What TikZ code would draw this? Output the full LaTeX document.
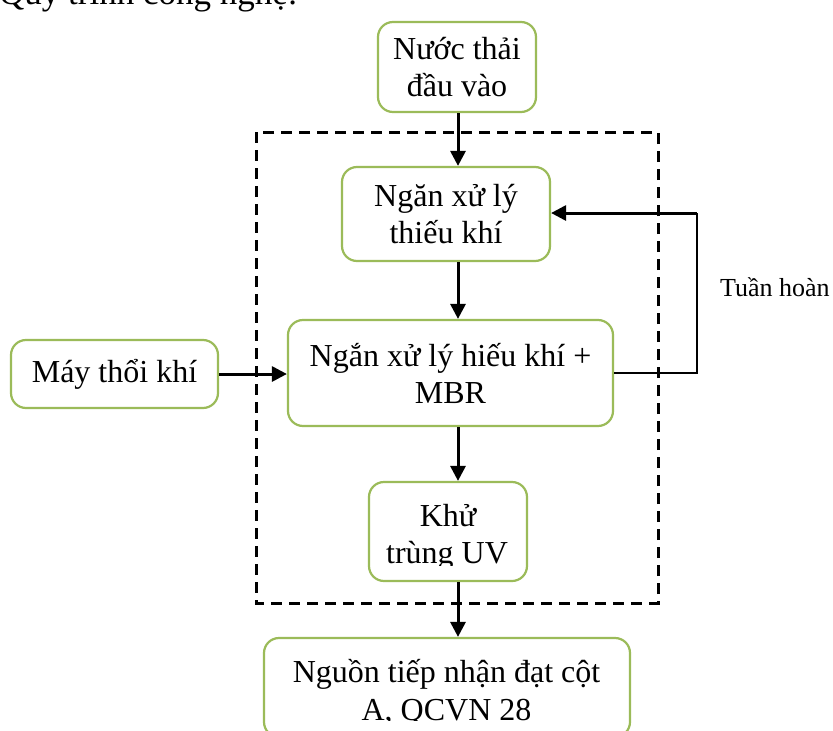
\documentclass[tikz,border=0pt]{standalone}
\usepackage{fontspec}
\setmainfont{Liberation Serif}
\usetikzlibrary{arrows.meta}
\definecolor{boxgreen}{HTML}{9BBB59}
\begin{document}
\begin{tikzpicture}[x=1pt,y=-1pt,
  box/.style={draw=boxgreen, line width=2.2pt, rounded corners=15pt, align=center, inner sep=0pt, font=\fontsize{32}{37}\selectfont},
  flow/.style={line width=3pt, -{Triangle[length=15pt,width=15pt]}},
  thinline/.style={line width=1.3pt},
  dashbox/.style={line width=3pt, dash pattern=on 11pt off 7pt},
  lbl/.style={inner sep=0pt, anchor=base, font=\fontsize{32}{37}\selectfont}]
\useasboundingbox (0,0) rectangle (833,731);
\clip (0,0) rectangle (833,731);

\node[anchor=base west, inner sep=0pt, font=\fontsize{35}{40}\selectfont] (title) at (-1,4) {Quy trình công nghệ:};

\draw[dashbox] (256,132) rectangle (658,603);

\node[box, minimum width=158pt, minimum height=90pt] (in) at (457,67) {Nước thải\\đầu vào};
\node[box, minimum width=208pt, minimum height=94pt] (anox) at (446,214) {Ngăn xử lý\\thiếu khí};
\node[box, minimum width=325pt, minimum height=106pt] (aero) at (450.5,373) {Ngắn xử lý hiếu khí +\\MBR};
\node[box, minimum width=207pt, minimum height=68pt] (blow) at (114.5,374) {Máy thổi khí};
\node[box, minimum width=158pt, minimum height=99pt] (uv) at (448,531.5) {};
\node[box, minimum width=366pt, minimum height=99pt] (recv) at (447,687.5) {};

\begin{scope}
  \clip (360,484) rectangle (536,565);
  \node[lbl] (uv1) at (448,526) {Khử};
  \node[lbl] (uv2) at (447,563) {trùng UV};
\end{scope}
\begin{scope}
  \clip (266,640) rectangle (628,720);
  \node[lbl] (recv1) at (446.5,682) {Nguồn tiếp nhận đạt cột};
  \node[lbl] (recv2) at (446.5,720) {A, QCVN 28};
\end{scope}

\node[anchor=west, inner sep=0pt, font=\fontsize{26}{30}\selectfont] (tl) at (720,287) {Tuần hoàn};

\coordinate (spine) at (458,0);
\coordinate (rc) at (697,213);
\draw[flow] (spine |- in.south) -- (spine |- anox.north);
\draw[flow] (spine |- anox.south) -- (spine |- aero.north);
\draw[flow] (spine |- aero.south) -- (spine |- uv.north);
\draw[flow] (spine |- uv.south) -- (spine |- recv.north);
\draw[flow] (blow.east) -- (blow.east -| aero.west);
\draw[thinline] (aero.east) -| (rc);
\draw[line width=3pt, -{Triangle[length=15pt,width=15pt]}] (rc) -- (rc -| anox.east);
\end{tikzpicture}
\end{document}
